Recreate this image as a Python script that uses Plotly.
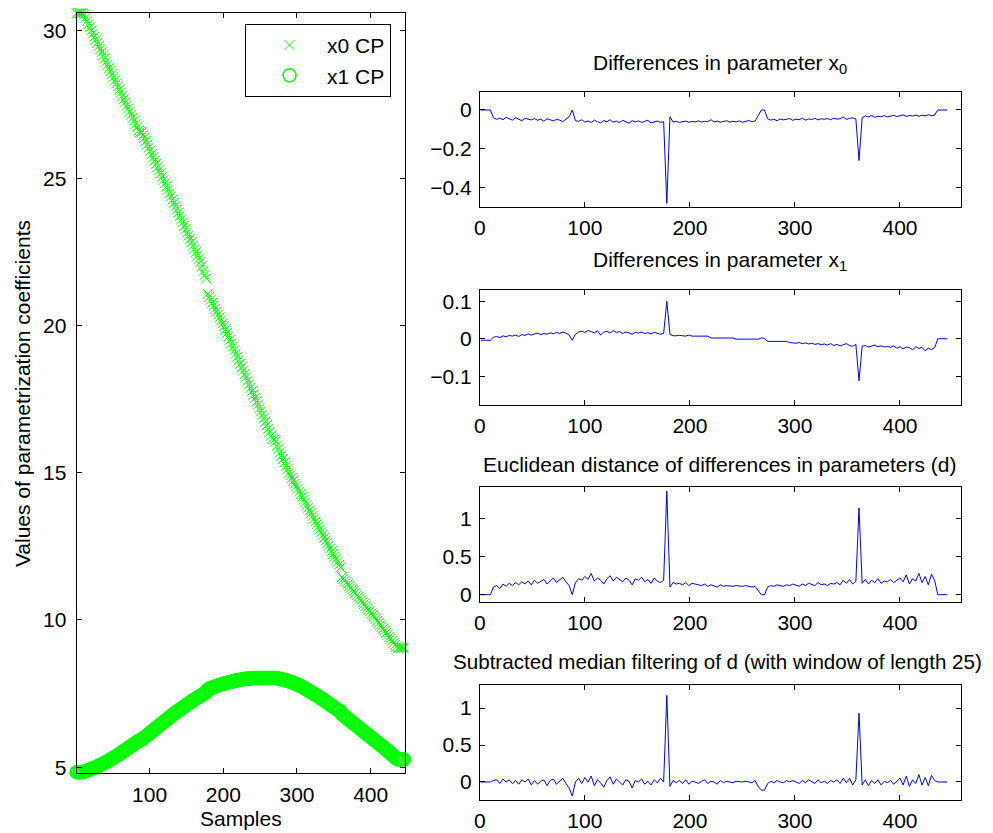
import plotly.graph_objects as go

# ---------------- data ----------------
cp_samples = list(range(1, 446, 2))
x0_cp = [30.60, 30.60, 30.60, 30.60, 30.60, 30.55, 30.44, 30.34, 30.23, 30.12,
         30.02, 29.91, 29.80, 29.70, 29.59, 29.49, 29.38, 29.28, 29.17, 29.07,
         28.96, 28.85, 28.74, 28.64, 28.53, 28.43, 28.32, 28.22, 28.11, 28.01,
         27.90, 27.79, 27.68, 27.58, 27.47, 27.37, 27.26, 27.16, 27.05, 26.95,
         26.84, 26.73, 26.62, 26.57, 26.55, 26.46, 26.37, 26.26, 26.15, 26.04,
         25.93, 25.82, 25.71, 25.60, 25.49, 25.38, 25.27, 25.16, 25.05, 24.94,
         24.83, 24.72, 24.61, 24.49, 24.38, 24.27, 24.16, 24.05, 23.94, 23.83,
         23.72, 23.60, 23.49, 23.38, 23.27, 23.16, 23.05, 22.94, 22.83, 22.71,
         22.60, 22.49, 22.38, 22.27, 22.16, 22.01, 21.85, 21.72, 21.60, 21.07,
         20.97, 20.87, 20.77, 20.67, 20.57, 20.47, 20.37, 20.27, 20.17, 20.07,
         19.97, 19.86, 19.74, 19.63, 19.51, 19.40, 19.28, 19.16, 19.04, 18.93,
         18.81, 18.70, 18.58, 18.47, 18.35, 18.24, 18.12, 18.00, 17.88, 17.77,
         17.65, 17.54, 17.42, 17.31, 17.19, 17.08, 16.96, 16.85, 16.73, 16.61,
         16.49, 16.38, 16.26, 16.16, 16.12, 16.06, 15.92, 15.81, 15.69, 15.58,
         15.46, 15.35, 15.23, 15.12, 15.00, 14.91, 14.82, 14.73, 14.63, 14.54,
         14.45, 14.36, 14.27, 14.18, 14.08, 13.99, 13.90, 13.81, 13.71, 13.62,
         13.53, 13.44, 13.34, 13.25, 13.16, 13.07, 12.98, 12.89, 12.79, 12.70,
         12.61, 12.52, 12.42, 12.33, 12.24, 12.15, 12.06, 11.97, 11.87, 11.78,
         11.46, 11.40, 11.34, 11.28, 11.21, 11.15, 11.09, 11.03, 10.97, 10.91,
         10.84, 10.78, 10.72, 10.66, 10.60, 10.54, 10.47, 10.41, 10.35, 10.29,
         10.22, 10.16, 10.10, 10.04, 9.97, 9.90, 9.83, 9.77, 9.70, 9.63,
         9.56, 9.49, 9.42, 9.36, 9.29, 9.22, 9.15, 9.09, 9.05, 9.05,
         9.05, 9.05, 9.05]
x1_cp = [4.83, 4.83, 4.83, 4.83, 4.83, 4.84, 4.86, 4.88, 4.90, 4.92,
         4.94, 4.96, 4.98, 5.00, 5.02, 5.05, 5.07, 5.10, 5.12, 5.15,
         5.17, 5.20, 5.23, 5.26, 5.29, 5.32, 5.35, 5.38, 5.41, 5.44,
         5.47, 5.51, 5.54, 5.58, 5.61, 5.65, 5.68, 5.72, 5.75, 5.79,
         5.82, 5.86, 5.89, 5.91, 5.93, 5.97, 6.01, 6.05, 6.09, 6.13,
         6.17, 6.21, 6.25, 6.29, 6.33, 6.37, 6.41, 6.45, 6.49, 6.53,
         6.57, 6.61, 6.65, 6.69, 6.73, 6.77, 6.81, 6.85, 6.88, 6.92,
         6.95, 6.99, 7.02, 7.06, 7.09, 7.13, 7.16, 7.20, 7.23, 7.27,
         7.30, 7.33, 7.36, 7.39, 7.42, 7.45, 7.48, 7.51, 7.54, 7.64,
         7.67, 7.69, 7.70, 7.72, 7.74, 7.76, 7.77, 7.79, 7.80, 7.82,
         7.83, 7.85, 7.86, 7.88, 7.89, 7.90, 7.91, 7.93, 7.94, 7.95,
         7.96, 7.97, 7.98, 7.99, 7.99, 8.00, 8.00, 8.01, 8.01, 8.02,
         8.02, 8.03, 8.03, 8.03, 8.03, 8.03, 8.03, 8.03, 8.03, 8.03,
         8.03, 8.03, 8.03, 8.03, 8.03, 8.03, 8.02, 8.01, 8.00, 7.99,
         7.97, 7.96, 7.94, 7.93, 7.91, 7.90, 7.88, 7.86, 7.84, 7.82,
         7.80, 7.78, 7.75, 7.73, 7.70, 7.67, 7.64, 7.61, 7.58, 7.55,
         7.52, 7.49, 7.46, 7.43, 7.40, 7.37, 7.33, 7.30, 7.26, 7.23,
         7.19, 7.16, 7.12, 7.09, 7.05, 7.02, 6.98, 6.95, 6.92, 6.89,
         6.80, 6.76, 6.72, 6.68, 6.64, 6.60, 6.56, 6.52, 6.48, 6.44,
         6.40, 6.36, 6.32, 6.28, 6.24, 6.20, 6.16, 6.12, 6.08, 6.04,
         6.00, 5.96, 5.92, 5.88, 5.84, 5.80, 5.76, 5.72, 5.68, 5.64,
         5.60, 5.56, 5.51, 5.47, 5.42, 5.38, 5.33, 5.29, 5.26, 5.26,
         5.26, 5.26, 5.26]

diff_samples = list(range(1, 446, 3))
diff_x0 = [0, 0, 0, 0, -0.040, -0.048, -0.042, -0.050, -0.038, -0.047,
           -0.052, -0.040, -0.046, -0.055, -0.043, -0.049, -0.051, -0.044, -0.053, -0.047,
           -0.058, -0.045, -0.050, -0.056, -0.048, -0.052, -0.060, -0.047, -0.035, 0.000,
           -0.055, -0.058, -0.050, -0.062, -0.056, -0.064, -0.052, -0.060, -0.066, -0.054,
           -0.060, -0.050, -0.063, -0.057, -0.065, -0.053, -0.059, -0.068, -0.055, -0.061,
           -0.056, -0.064, -0.058, -0.053, -0.066, -0.060, -0.057, -0.064, -0.060, -0.480,
           -0.035, -0.062, -0.058, -0.064, -0.060, -0.057, -0.063, -0.059, -0.061, -0.056,
           -0.062, -0.058, -0.060, -0.050, -0.061, -0.057, -0.063, -0.059, -0.055, -0.062,
           -0.058, -0.061, -0.056, -0.063, -0.059, -0.054, -0.060, -0.057, -0.030, 0.000,
           0.000, -0.045, -0.052, -0.048, -0.055, -0.046, -0.051, -0.049, -0.044, -0.053,
           -0.047, -0.050, -0.042, -0.052, -0.046, -0.049, -0.043, -0.051, -0.045, -0.048,
           -0.044, -0.050, -0.042, -0.047, -0.045, -0.036, -0.048, -0.043, -0.040, -0.046,
           -0.260, -0.040, -0.030, -0.036, -0.028, -0.038, -0.032, -0.035, -0.029, -0.036,
           -0.030, -0.027, -0.034, -0.029, -0.025, -0.033, -0.028, -0.031, -0.026, -0.032,
           -0.027, -0.030, -0.024, -0.029, -0.026, 0.000, 0.000, 0.000, 0.000]
diff_x1 = [-0.004, -0.004, -0.004, -0.004, 0.004, 0.006, 0.003, 0.008, 0.005, 0.009,
           0.007, 0.010, 0.006, 0.011, 0.009, 0.013, 0.010, 0.012, 0.015, 0.011,
           0.014, 0.012, 0.016, 0.013, 0.017, 0.014, 0.018, 0.015, 0.010, -0.004,
           0.012, 0.018, 0.020, 0.017, 0.022, 0.019, 0.016, 0.021, 0.010, 0.018,
           0.020, 0.015, 0.022, 0.017, 0.019, 0.014, 0.018, 0.016, 0.012, 0.017,
           0.015, 0.018, 0.014, 0.016, 0.013, 0.017, 0.015, 0.012, 0.014, 0.100,
           0.012, 0.008, 0.008, 0.009, 0.008, 0.007, 0.010, 0.007, 0.007, 0.007,
           0.007, 0.007, 0.007, 0.002, 0.002, 0.002, 0.002, 0.002, 0.002, 0.002,
           0.002, -0.001, -0.001, -0.001, -0.001, -0.001, -0.001, -0.001, -0.001, 0.002,
           0.001, -0.007, -0.007, -0.007, -0.007, -0.007, -0.007, -0.007, -0.010, -0.011,
           -0.012, -0.010, -0.013, -0.011, -0.014, -0.012, -0.015, -0.013, -0.016, -0.014,
           -0.017, -0.013, -0.018, -0.015, -0.019, -0.016, -0.013, -0.018, -0.020, -0.015,
           -0.112, -0.020, -0.018, -0.022, -0.020, -0.017, -0.021, -0.019, -0.022, -0.020,
           -0.023, -0.019, -0.025, -0.021, -0.027, -0.022, -0.024, -0.030, -0.021, -0.026,
           -0.023, -0.032, -0.025, -0.029, -0.024, 0.000, 0.000, 0.000, 0.000]
dist_d = [0, 0, 0, 0, 0.10, 0.12, 0.08, 0.14, 0.11, 0.15,
          0.12, 0.16, 0.13, 0.17, 0.14, 0.18, 0.13, 0.19, 0.15, 0.17,
          0.20, 0.14, 0.18, 0.22, 0.16, 0.19, 0.23, 0.17, 0.12, 0.00,
          0.16, 0.21, 0.19, 0.24, 0.20, 0.28, 0.18, 0.22, 0.19, 0.14,
          0.21, 0.25, 0.18, 0.23, 0.20, 0.17, 0.22, 0.19, 0.13, 0.21,
          0.19, 0.23, 0.17, 0.20, 0.15, 0.22, 0.18, 0.16, 0.19, 1.36,
          0.10, 0.16, 0.14, 0.15, 0.13, 0.16, 0.12, 0.15, 0.14, 0.13,
          0.12, 0.14, 0.11, 0.13, 0.12, 0.10, 0.13, 0.11, 0.12, 0.11,
          0.11, 0.12, 0.11, 0.11, 0.12, 0.11, 0.10, 0.11, 0.05, 0.00,
          0.00, 0.10, 0.12, 0.11, 0.13, 0.12, 0.11, 0.13, 0.12, 0.14,
          0.13, 0.11, 0.14, 0.12, 0.15, 0.13, 0.12, 0.16, 0.13, 0.14,
          0.12, 0.15, 0.14, 0.16, 0.13, 0.19, 0.15, 0.20, 0.14, 0.18,
          1.14, 0.15, 0.20, 0.14, 0.19, 0.16, 0.21, 0.15, 0.18, 0.17,
          0.20, 0.16, 0.19, 0.22, 0.17, 0.26, 0.14, 0.21, 0.18, 0.28,
          0.16, 0.24, 0.13, 0.27, 0.19, 0.00, 0.00, 0.00, 0.00]
d_minus_median = [0, 0, 0, 0, 0.02, 0.03, -0.02, 0.04, 0.00, 0.03,
                  -0.02, 0.02, -0.03, 0.03, 0.00, 0.04, -0.04, 0.02, -0.03, 0.01,
                  0.03, -0.05, 0.02, 0.04, -0.03, 0.01, 0.05, -0.02, -0.08, -0.19,
                  0.00, 0.05, -0.02, 0.06, 0.00, 0.08, -0.05, 0.03, -0.01, -0.07,
                  0.02, 0.07, -0.03, 0.04, 0.00, -0.04, 0.03, 0.01, -0.08, 0.02,
                  0.00, 0.04, -0.03, 0.01, -0.04, 0.03, -0.01, 0.05, 0.00, 1.17,
                  -0.06, 0.02, -0.01, 0.02, -0.02, 0.03, -0.03, 0.01, 0.00, -0.02,
                  0.01, 0.03, -0.02, 0.01, 0.00, -0.03, 0.02, -0.01, 0.01, 0.00,
                  -0.01, 0.01, 0.00, 0.00, 0.01, 0.00, -0.01, 0.02, -0.06, -0.11,
                  -0.11, -0.02, 0.01, -0.01, 0.02, 0.00, -0.01, 0.02, 0.00, 0.02,
                  0.00, -0.02, 0.02, -0.01, 0.03, 0.00, -0.02, 0.03, -0.01, 0.01,
                  -0.02, 0.02, 0.00, 0.03, -0.02, 0.05, -0.01, 0.05, -0.04, 0.03,
                  0.93, -0.04, 0.03, -0.05, 0.02, -0.02, 0.03, -0.04, 0.01, -0.01,
                  0.02, -0.03, 0.01, 0.05, -0.04, 0.08, -0.06, 0.03, -0.02, 0.10,
                  -0.04, 0.06, -0.05, 0.09, 0.02, 0.00, 0.00, 0.00, 0.00]

sub_titles = ["Differences in parameter x<sub>0</sub>",
              "Differences in parameter x<sub>1</sub>",
              "Euclidean distance of differences in parameters (d)",
              "Subtracted median filtering of d (with window of length 25)"]
sub_series = [diff_x0, diff_x1, dist_d, d_minus_median]
sub_yranges = [[-0.50, 0.09], [-0.176, 0.130], [-0.098, 1.41], [-0.239, 1.313]]
sub_ytickvals = [[-0.4, -0.2, 0], [-0.1, 0, 0.1], [0, 0.5, 1], [0, 0.5, 1]]
sub_yticktext = [["\u22120.4", "\u22120.2", "0"], ["\u22120.1", "0", "0.1"],
                 ["0", "0.5", "1"], ["0", "0.5", "1"]]

# ---------------- layout geometry (page pixels; page body has an 8px margin) ----------------
OFF = 8
W, H = 993 - OFF, 833 - OFF
FONT = "Liberation Sans, Arial, Helvetica, sans-serif"
FS = 21


def px_x(p):
    return (p - OFF) / W


def px_y(p):
    return 1 - (p - OFF) / H


left_dom_x = [px_x(71), px_x(401)]
left_dom_y = [px_y(777.7), px_y(13.3)]
right_dom_x = [px_x(476.7), px_x(960.7)]
right_tops = [93.0, 291.7, 490.3, 689.0]
right_h = 115.5
title_mid = [64.0, 262.7, 467.0, 665.3]
title_cx = [718.7, 718.7, 718.7, 715.5]
title_fs = [FS, FS, FS, 20.6]

axis_style = dict(showline=True, linecolor="black", linewidth=1, mirror="allticks",
                  ticks="inside", ticklen=5, tickcolor="black", tickwidth=1,
                  showgrid=False, zeroline=False,
                  tickfont=dict(family=FONT, size=FS, color="black"))

fig = go.Figure()

fig.add_trace(go.Scatter(
    x=cp_samples, y=x0_cp, mode="markers", name="\u00a0\u00a0\u00a0x0 CP",
    marker=dict(symbol="x-thin", size=10, color="#00ff00",
                line=dict(color="#00ff00", width=1)),
    cliponaxis=False, xaxis="x", yaxis="y"))
fig.add_trace(go.Scatter(
    x=cp_samples, y=x1_cp, mode="markers", name="\u00a0\u00a0\u00a0x1 CP",
    marker=dict(symbol="circle-open", size=13, color="#00ff00",
                line=dict(color="#00ff00", width=1.5)),
    cliponaxis=False, xaxis="x", yaxis="y"))

layout = dict(
    width=W, height=H,
    margin=dict(l=0, r=0, t=0, b=0),
    paper_bgcolor="white", plot_bgcolor="white",
    font=dict(family=FONT, size=FS, color="black"),
    showlegend=True,
    legend=dict(x=px_x(240), xanchor="left", y=px_y(24), yanchor="top",
                bordercolor="black", borderwidth=1, bgcolor="white",
                font=dict(family=FONT, size=FS, color="black"),
                indentation=24, itemwidth=30, tracegroupgap=0),
    xaxis=dict(domain=left_dom_x, range=[1, 446], anchor="y",
               tickvals=[100, 200, 300, 400], ticklabelstandoff=3, **axis_style),
    yaxis=dict(domain=left_dom_y, range=[4.8, 30.6], anchor="x",
               tickvals=[5, 10, 15, 20, 25, 30], ticklabelstandoff=5, **axis_style),
)

annotations = [
    dict(text="Values of parametrization coefficients", textangle=-90,
         x=px_x(16), y=px_y(395.5), xref="paper", yref="paper",
         xanchor="center", yanchor="middle", showarrow=False,
         font=dict(family=FONT, size=FS, color="black")),
    dict(text="Samples", x=px_x(236), y=px_y(823), xref="paper", yref="paper",
         xanchor="center", yanchor="middle", showarrow=False,
         font=dict(family=FONT, size=FS, color="black")),
]

for i in range(4):
    xa = "x%d" % (i + 2)
    ya = "y%d" % (i + 2)
    top = right_tops[i]
    bot = top + right_h
    fig.add_trace(go.Scatter(x=diff_samples, y=sub_series[i], mode="lines",
                             line=dict(color="#0000ff", width=1),
                             showlegend=False, xaxis=xa, yaxis=ya))
    layout["xaxis%d" % (i + 2)] = dict(domain=right_dom_x, range=[0, 458], anchor=ya,
                                       tickvals=[0, 100, 200, 300, 400],
                                       ticklabelstandoff=2, **axis_style)
    layout["yaxis%d" % (i + 2)] = dict(domain=[px_y(bot), px_y(top)], range=sub_yranges[i],
                                       anchor=xa, tickvals=sub_ytickvals[i],
                                       ticktext=sub_yticktext[i], ticklabelstandoff=3,
                                       **axis_style)
    annotations.append(dict(text=sub_titles[i], x=px_x(title_cx[i]), y=px_y(title_mid[i]),
                            xref="paper", yref="paper", xanchor="center", yanchor="middle",
                            showarrow=False,
                            font=dict(family=FONT, size=title_fs[i], color="black")))

layout["annotations"] = annotations
fig.update_layout(**layout)
fig.write_html("out.html")
